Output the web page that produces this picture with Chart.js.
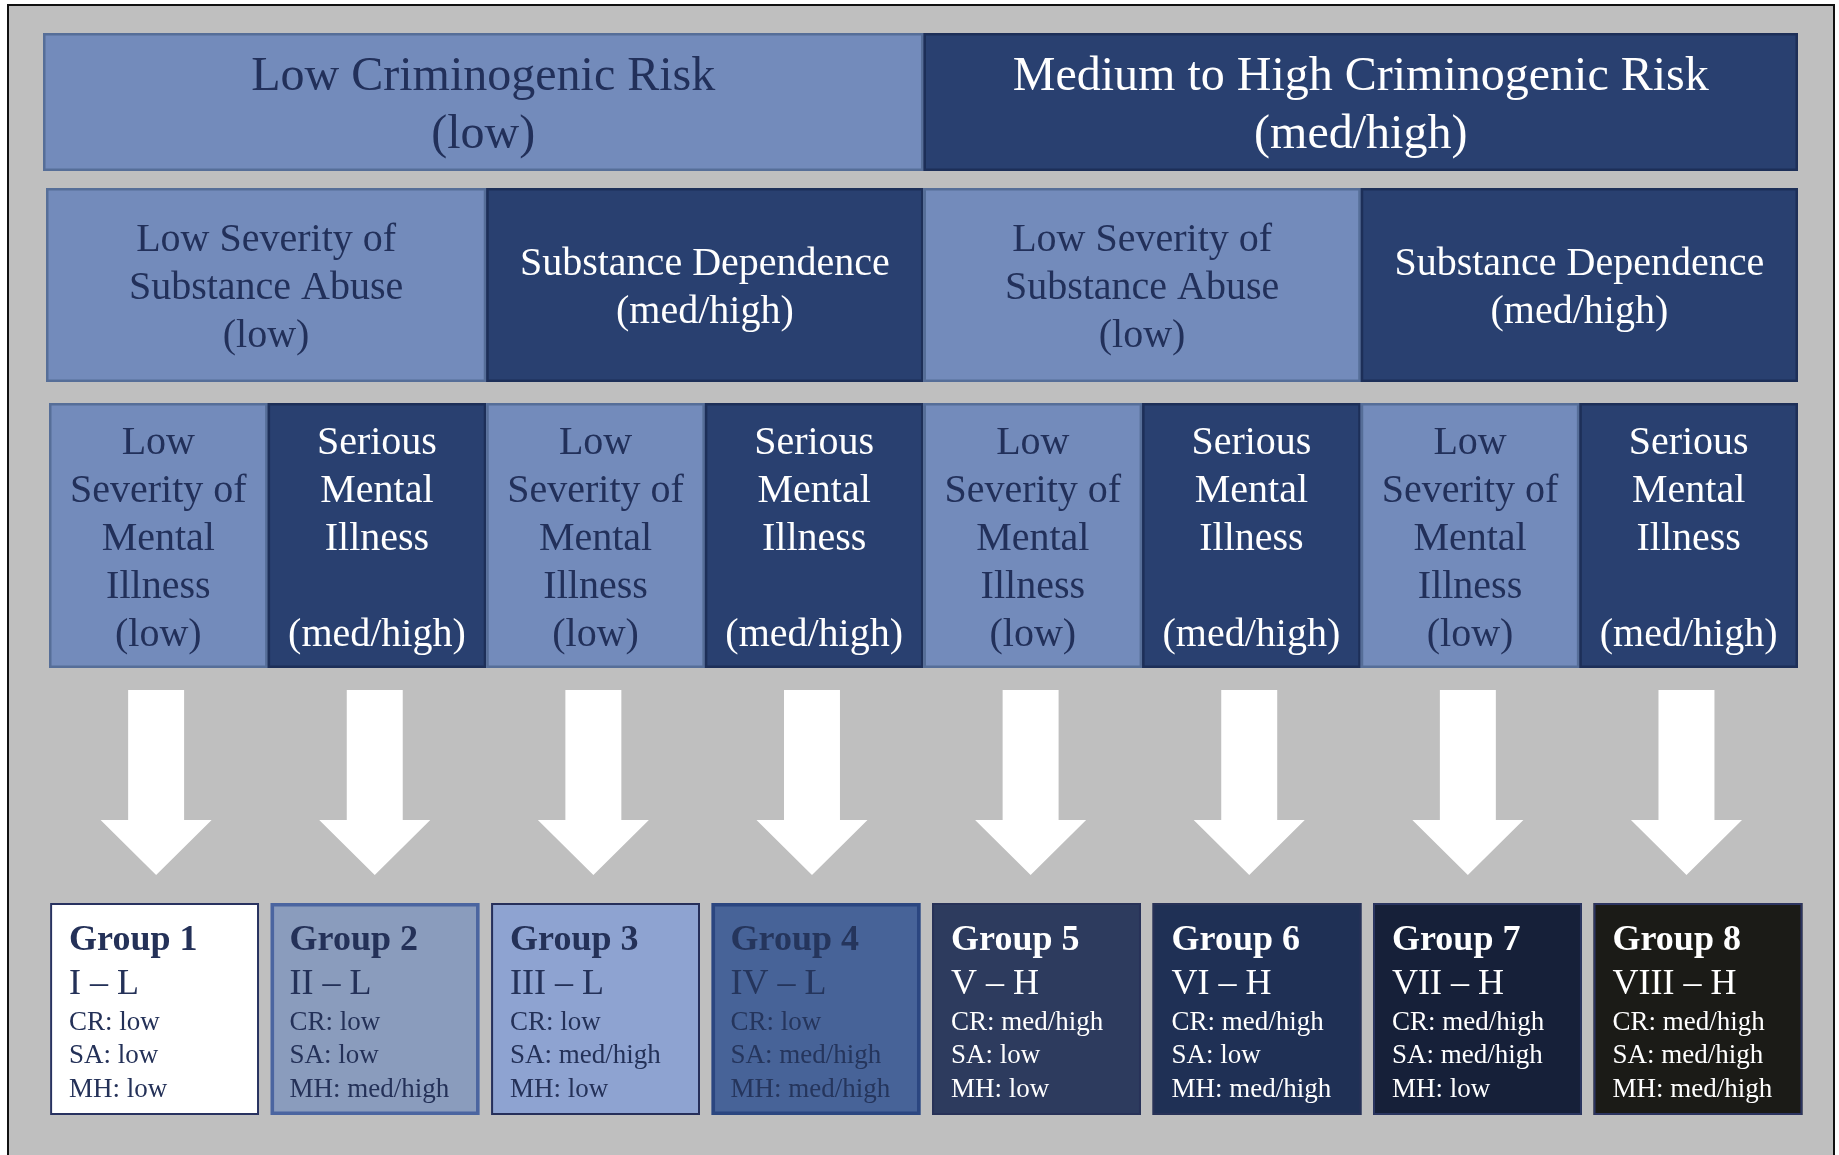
<!DOCTYPE html>
<html><head><meta charset="utf-8">
<script src="https://cdn.jsdelivr.net/npm/chart.js@4/dist/chart.umd.min.js"></script>
<style>
html,body{margin:0;padding:0;background:#ffffff;overflow:hidden;}
#frame{position:absolute;left:7px;top:4px;width:1824px;height:1180px;border:2px solid #111;background:#bfbfbf;}
#wrap{position:absolute;left:0;top:0;width:1839px;height:1155px;}
</style></head><body>
<div id="frame"></div>
<div id="wrap"><canvas id="c" width="1839" height="1155"></canvas></div>
<script>
// ---------- DATA ----------
const riskLabels = [["Low Criminogenic Risk", "(low)"], ["Medium to High Criminogenic Risk", "(med/high)"]];
const riskSpans = [4, 4];
const riskLevels = ["low", "high"];

const substanceLabels = [
  ["Low Severity of", "Substance Abuse", "(low)"],
  ["Substance Dependence", "(med/high)"],
  ["Low Severity of", "Substance Abuse", "(low)"],
  ["Substance Dependence", "(med/high)"]
];
const substanceSpans = [2, 2, 2, 2];
const substanceLevels = ["low", "high", "low", "high"];

const mentalLow = ["Low", "Severity of", "Mental", "Illness", "(low)"];
const mentalHigh = ["Serious", "Mental", "Illness", "", "(med/high)"];
const mentalLabels = [mentalLow, mentalHigh, mentalLow, mentalHigh, mentalLow, mentalHigh, mentalLow, mentalHigh];
const mentalSpans = [1, 1, 1, 1, 1, 1, 1, 1];
const mentalLevels = ["low", "high", "low", "high", "low", "high", "low", "high"];

const groupNames = ["Group 1", "Group 2", "Group 3", "Group 4", "Group 5", "Group 6", "Group 7", "Group 8"];
const groupCodes = ["I \u2013 L", "II \u2013 L", "III \u2013 L", "IV \u2013 L", "V \u2013 H", "VI \u2013 H", "VII \u2013 H", "VIII \u2013 H"];
const groupCR = ["low", "low", "low", "low", "med/high", "med/high", "med/high", "med/high"];
const groupSA = ["low", "low", "med/high", "med/high", "low", "low", "med/high", "med/high"];
const groupMH = ["low", "med/high", "low", "med/high", "low", "med/high", "low", "med/high"];

// ---------- STYLE / LAYOUT ----------
const FONT = "'Liberation Serif', 'Times New Roman', serif";
const levelStyle = {
  low:  {fill: "#738bbb", border: "#566e98", text: "#22305a"},
  high: {fill: "#294070", border: "#1d2f58", text: "#ffffff"}
};
const groupStyle = [
  {fill: "#ffffff", border: "#283260", bw: 2, text: "#243158"},
  {fill: "#8a9cbd", border: "#4b65a0", bw: 3.5, text: "#243158"},
  {fill: "#8ea3d1", border: "#262f5a", bw: 2, text: "#243158"},
  {fill: "#476398", border: "#2b4680", bw: 3.5, text: "#25355c"},
  {fill: "#2d3b5e", border: "#283258", bw: 2, text: "#ffffff"},
  {fill: "#1f3055", border: "#283258", bw: 2, text: "#ffffff"},
  {fill: "#162039", border: "#2a3560", bw: 2, text: "#ffffff"},
  {fill: "#1b1b17", border: "#2c3460", bw: 2, text: "#ffffff"}
];
const ROWS = {
  risk:      {y0: 0,   y1: 138, extendLeft: 6, font: 48, lineH: 58},
  substance: {y0: 155, y1: 349, extendLeft: 3, font: 40, lineH: 48},
  mental:    {y0: 370, y1: 635, extendLeft: 0, font: 40, lineH: 48},
  arrow:     {top: 657, neck: 787, tip: 842, center: 0.49, shaftHalf: 0.128, headHalf: 0.254},
  group:     {y0: 870, y1: 1082, width: 0.9475, padX: 19,
              lines: [{dy: 47, font: "bold 36px"}, {dy: 91, font: "36px"}, {dy: 127, font: "27px"}, {dy: 160, font: "27px"}, {dy: 194, font: "27px"}]}
};

function rect(ctx, l, t, r, b, fill, stroke, bw) {
  ctx.fillStyle = fill;
  ctx.fillRect(l, t, r - l, b - t);
  ctx.lineWidth = bw;
  ctx.strokeStyle = stroke;
  ctx.strokeRect(l + bw / 2, t + bw / 2, r - l - bw, b - t - bw);
}

function drawHeaderRow(chart, labels, spans, levels, row) {
  const ctx = chart.ctx, xs = chart.scales.x, ys = chart.scales.y;
  const top = ys.getPixelForValue(row.y0), bottom = ys.getPixelForValue(row.y1);
  let c = 0;
  labels.forEach((lines, i) => {
    let left = xs.getPixelForValue(c);
    const right = xs.getPixelForValue(c + spans[i]);
    if (i === 0) left -= row.extendLeft;
    c += spans[i];
    const st = levelStyle[levels[i]];
    rect(ctx, left, top, right, bottom, st.fill, st.border, 2.5);
    ctx.fillStyle = st.text;
    ctx.font = row.font + "px " + FONT;
    ctx.textAlign = "center";
    ctx.textBaseline = "alphabetic";
    const cx = (left + right) / 2, cy = (top + bottom) / 2, n = lines.length;
    lines.forEach((ln, k) => {
      const lc = cy + (k - (n - 1) / 2) * row.lineH;
      ctx.fillText(ln, cx, lc + 0.36 * row.font);
    });
  });
}

const diagramPlugin = {
  id: "diagram",
  afterDraw(chart) {
    const ctx = chart.ctx;
    ctx.save();
    drawHeaderRow(chart, riskLabels, riskSpans, riskLevels, ROWS.risk);
    drawHeaderRow(chart, substanceLabels, substanceSpans, substanceLevels, ROWS.substance);
    drawHeaderRow(chart, mentalLabels, mentalSpans, mentalLevels, ROWS.mental);

    const xs = chart.scales.x, xg = chart.scales.xg, ys = chart.scales.y;
    const A = ROWS.arrow, G = ROWS.group;
    const unit = xs.getPixelForValue(1) - xs.getPixelForValue(0);
    groupNames.forEach((name, i) => {
      // arrow (one per mental-illness column)
      const cx = xs.getPixelForValue(i + A.center);
      const yt = ys.getPixelForValue(A.top), yn = ys.getPixelForValue(A.neck), yp = ys.getPixelForValue(A.tip);
      const sh = A.shaftHalf * unit, hh = A.headHalf * unit;
      ctx.fillStyle = "#ffffff";
      ctx.beginPath();
      ctx.moveTo(cx - sh, yt); ctx.lineTo(cx + sh, yt); ctx.lineTo(cx + sh, yn);
      ctx.lineTo(cx + hh, yn); ctx.lineTo(cx, yp); ctx.lineTo(cx - hh, yn);
      ctx.lineTo(cx - sh, yn); ctx.closePath(); ctx.fill();
      // group box
      const l = xg.getPixelForValue(i), r = xg.getPixelForValue(i + G.width);
      const t = ys.getPixelForValue(G.y0), b = ys.getPixelForValue(G.y1);
      const st = groupStyle[i];
      rect(ctx, l, t, r, b, st.fill, st.border, st.bw);
      const texts = [name, groupCodes[i], "CR: " + groupCR[i], "SA: " + groupSA[i], "MH: " + groupMH[i]];
      ctx.fillStyle = st.text;
      ctx.textAlign = "left";
      ctx.textBaseline = "alphabetic";
      texts.forEach((tx, k) => {
        ctx.font = G.lines[k].font + " " + FONT;
        ctx.fillText(tx, l + G.padX, t + G.lines[k].dy);
      });
    });
    ctx.restore();
  }
};

new Chart(document.getElementById("c"), {
  type: "scatter",
  data: {datasets: [{data: [], xAxisID: "x", yAxisID: "y"}]},
  options: {
    responsive: false,
    devicePixelRatio: 1,
    animation: false,
    events: [],
    layout: {padding: {left: 49, right: 36, top: 33, bottom: 40}},
    plugins: {legend: {display: false}, tooltip: {enabled: false}, title: {display: false}},
    scales: {
      x:  {type: "linear", display: false, min: 0, max: 8.023},
      xg: {type: "linear", display: false, min: -0.005, max: 7.95, position: "bottom"},
      y:  {type: "linear", display: false, min: 0, max: 1082, reverse: true}
    }
  },
  plugins: [diagramPlugin]
});
</script>
</body></html>
